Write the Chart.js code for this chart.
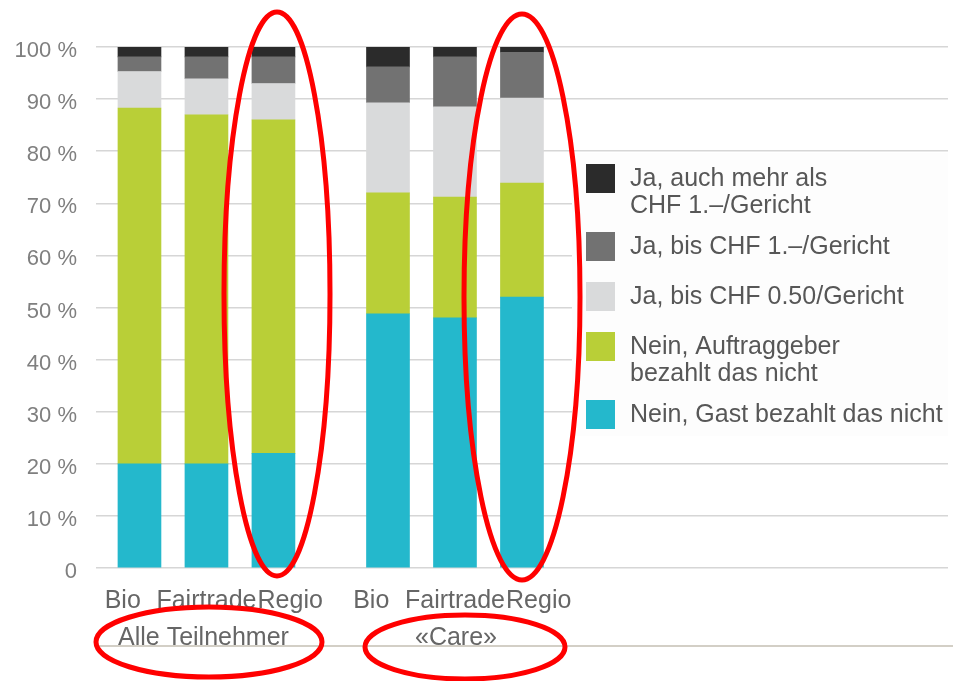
<!DOCTYPE html>
<html>
<head>
<meta charset="utf-8">
<script src="https://cdn.jsdelivr.net/npm/chart.js@4.4.0/dist/chart.umd.min.js"></script>
<style>
    html, body { margin: 0; padding: 0; background: #fff; }
    #wrap { width: 953px; height: 681px; position: relative; }
</style>
</head>
<body>
<div id="wrap"><canvas id="zahlungChart" width="953" height="681"></canvas></div>
<script>
(function () {
    "use strict";

    //------------------------------ Daten --------------------------
    var categories = ['Bio', 'Fairtrade', 'Regio', 'Bio', 'Fairtrade', 'Regio'];
    var groups = ['Alle Teilnehmer', '«Care»'];
    var yTicks = [0, 10, 20, 30, 40, 50, 60, 70, 80, 90, 100];

    // Anteile in %, von unten nach oben gestapelt
    var neinGast = [20, 20, 22, 48.8, 48, 52];
    var neinAuftraggeber = [68.3, 67, 64, 23.2, 23.2, 21.9];
    var bis050 = [7, 6.9, 7, 17.3, 17.3, 16.3];
    var bis1 = [2.8, 4.2, 5.1, 6.9, 9.6, 8.8];
    var mehrAls1 = [1.9, 1.9, 1.9, 3.8, 1.9, 1.0];

    var seriesLabels = [
        ['Nein, Gast bezahlt das nicht'],
        ['Nein, Auftraggeber', 'bezahlt das nicht'],
        ['Ja, bis CHF 0.50/Gericht'],
        ['Ja, bis CHF 1.–/Gericht'],
        ['Ja, auch mehr als', 'CHF 1.–/Gericht']
    ];
    var seriesValues = [neinGast, neinAuftraggeber, bis050, bis1, mehrAls1];
    var seriesColors = ['#24b8cc', '#b9cf37', '#d9dadb', '#727272', '#2b2b2b'];

    //------------------------------ Layout --------------------------
    var FONT = "'Liberation Sans', Arial, sans-serif";
    var perGroup = categories.length / groups.length;
    var GROUP_GAP = 0.71;     // zusätzlicher Abstand zwischen den Gruppen
    var LABEL_SPREAD = 1.25;  // Beschriftungen breiter verteilt als die Balken

    function barPos(i) {
        return i + Math.floor(i / perGroup) * GROUP_GAP;
    }
    function groupCenter(g) {
        return barPos(g * perGroup + (perGroup - 1) / 2);
    }
    var labelPos = categories.map(function (c, i) {
        var g = Math.floor(i / perGroup);
        var k = i % perGroup;
        return groupCenter(g) + (k - (perGroup - 1) / 2) * LABEL_SPREAD;
    });

    var datasets = seriesValues.map(function (vals, s) {
        return {
            label: seriesLabels[s].join(' '),
            backgroundColor: seriesColors[s],
            data: vals.map(function (v, i) { return { x: barPos(i), y: v }; }),
            barThickness: 43
        };
    });

    //------------------------------ Plugins --------------------------
    // Gruppenbeschriftung, Legende und rote Markierungen
    var extrasPlugin = {
        id: 'extras',
        afterDraw: function (chart) {
            var ctx = chart.ctx;
            var xs = chart.scales.x;
            ctx.save();

            // Gruppen unter der Achse
            ctx.font = '25px ' + FONT;
            ctx.fillStyle = '#666666';
            ctx.textAlign = 'center';
            ctx.textBaseline = 'alphabetic';
            groups.forEach(function (g, i) {
                ctx.fillText(g, xs.getPixelForValue(groupCenter(i)) - 3 + i * 4, 645);
            });

            // untere Rahmenlinie
            ctx.strokeStyle = '#d3cfc6';
            ctx.lineWidth = 2;
            ctx.beginPath();
            ctx.moveTo(96, 646);
            ctx.lineTo(953, 646);
            ctx.stroke();

            // Legende (umgekehrte Reihenfolge)
            ctx.fillStyle = '#fdfdfd';
            ctx.fillRect(572, 153, 376, 283);
            var y = 164;
            for (var s = seriesLabels.length - 1; s >= 0; s--) {
                ctx.fillStyle = seriesColors[s];
                ctx.fillRect(586, y, 29, 29);
                ctx.fillStyle = '#575757';
                ctx.textAlign = 'left';
                ctx.textBaseline = 'middle';
                ctx.font = '25px ' + FONT;
                for (var l = 0; l < seriesLabels[s].length; l++) {
                    ctx.fillText(seriesLabels[s][l], 630, y + 15 + l * 27);
                }
                y += 50 + (seriesLabels[s].length - 1) * 18;
            }

            // rote Ellipsen
            ctx.strokeStyle = '#ff0000';
            ctx.lineWidth = 5;
            [[277, 294, 53, 282], [522, 297, 58, 283], [209, 642, 113, 35], [465, 647, 100, 32]].forEach(function (e) {
                ctx.beginPath();
                ctx.ellipse(e[0], e[1], e[2], e[3], 0, 0, Math.PI * 2);
                ctx.stroke();
            });
            ctx.restore();
        }
    };

    //------------------------------ Chart --------------------------
    var ctxChart = document.getElementById('zahlungChart').getContext('2d');
    var chart = new Chart(ctxChart, {
        type: 'bar',
        data: { datasets: datasets },
        options: {
            responsive: false,
            devicePixelRatio: 1,
            animation: false,
            layout: { padding: { top: 47, right: 5, left: 0, bottom: 0 } },
            plugins: {
                legend: { display: false },
                tooltip: { enabled: false }
            },
            scales: {
                x: {
                    type: 'linear',
                    stacked: true,
                    offset: false,
                    min: -0.649,
                    max: 12.07,
                    grid: { display: false, drawTicks: false },
                    border: { display: false },
                    afterBuildTicks: function (scale) {
                        scale.ticks = labelPos.map(function (v) { return { value: v }; });
                    },
                    afterFit: function (scale) { scale.height = 113; },
                    ticks: {
                        autoSkip: false,
                        maxRotation: 0,
                        padding: 18,
                        color: '#666666',
                        font: { family: FONT, size: 25 },
                        callback: function (value, index) { return categories[index]; }
                    }
                },
                y: {
                    stacked: true,
                    min: 0,
                    max: 100,
                    afterBuildTicks: function (scale) {
                        scale.ticks = yTicks.map(function (v) { return { value: v }; });
                    },
                    afterFit: function (scale) { scale.width = 96; },
                    grid: { color: '#d6d6d6', lineWidth: 1.5, drawTicks: false },
                    border: { display: false },
                    ticks: {
                        padding: 19,
                        labelOffset: 4,
                        color: '#7f7f7f',
                        font: { family: FONT, size: 22 },
                        callback: function (v) { return v === 0 ? '0' : v + ' %'; }
                    }
                }
            }
        },
        plugins: [extrasPlugin]
    });
})();
</script>
</body>
</html>
